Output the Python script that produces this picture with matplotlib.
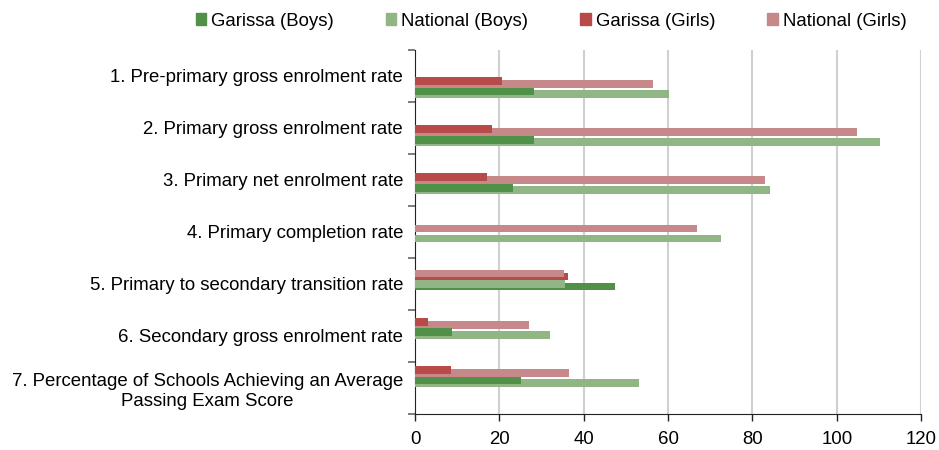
import numpy as np
import matplotlib
matplotlib.use('Agg')
import matplotlib.pyplot as plt
from matplotlib.patches import Patch

plt.rcParams['font.family'] = ['Liberation Sans', 'DejaVu Sans']

categories = [
    '1. Pre-primary gross enrolment rate',
    '2. Primary gross enrolment rate',
    '3. Primary net enrolment rate',
    '4. Primary completion rate',
    '5. Primary to secondary transition rate',
    '6. Secondary gross enrolment rate',
    '7. Percentage of Schools Achieving an Average\nPassing Exam Score',
]
garissa_boys = [28.2, 28.2, 23.2, np.nan, 47.4, 8.8, 25.1]
national_boys = [60.1, 110.3, 84.2, 72.6, 35.6, 32.0, 53.1]
garissa_girls = [20.6, 18.2, 17.1, np.nan, 36.3, 3.1, 8.5]
national_girls = [56.4, 104.8, 83.0, 66.9, 35.3, 27.0, 36.5]

c_gb = '#509048'
c_nb = '#91b685'
c_gg = '#b84a4a'
c_ng = '#c68888'

fig = plt.figure(figsize=(9.39, 4.5), dpi=100)
ax = fig.add_axes([0.442, 0.08, 0.539, 0.809])
ax2 = ax.twinx()

n = len(categories)
ypos = np.arange(n)
h = 0.16

# each pair: the shorter bar sits a bit higher and in front
pairs = [
    (garissa_girls, national_girls, c_gg, c_ng, -0.135, -0.073),
    (garissa_boys, national_boys, c_gb, c_nb, 0.083, 0.135),
]
for garissa, national, cg, cn, off_front, off_back in pairs:
    for i in range(n):
        g = 0 if np.isnan(garissa[i]) else garissa[i]
        nat = national[i]
        if g <= nat:
            front, fc, back, bc = g, cg, nat, cn
        else:
            front, fc, back, bc = nat, cn, g, cg
        ax2.barh(ypos[i] + off_back, back, height=h, color=bc, zorder=2)
        if front > 0:
            ax2.barh(ypos[i] + off_front, front, height=h, color=fc, zorder=3)

ax2.set_ylim(n - 1 + 0.78, -0.78)
ax2.set_yticks([])
for s in ax2.spines.values():
    s.set_visible(False)

ax.set_xlim(0, 120)
ax.set_ylim(n - 0.5, -0.5)
ax.set_xticks(np.arange(0, 121, 20))
ax.set_yticks(ypos)
ax.set_yticklabels(categories, fontsize=13.4)
for lab in ax.get_yticklabels():
    lab.set_multialignment('center')
ax.set_yticks(np.arange(-0.5, n, 1.0), minor=True)
ax.tick_params(axis='y', which='major', length=0, pad=8.5)
ax.tick_params(axis='y', which='minor', length=5, width=1.2, color='#666666')
ax.tick_params(axis='x', labelsize=13.4, length=5, width=1, color='#222222', pad=7)
ax.grid(axis='x', color='#d0d0d0', linewidth=1.5)
ax.set_axisbelow(True)
ax.spines['top'].set_visible(False)
ax.spines['right'].set_visible(False)
ax.spines['left'].set_color('#222222')
ax.spines['bottom'].set_color('#222222')

handles = [
    Patch(color=c_gb, label='Garissa (Boys)'),
    Patch(color=c_nb, label='National (Boys)'),
    Patch(color=c_gg, label='Garissa (Girls)'),
    Patch(color=c_ng, label='National (Girls)'),
]
fig.legend(handles=handles, loc='center', bbox_to_anchor=(0.587, 0.953), ncol=4,
           frameon=False, fontsize=13.4, handlelength=0.55, handleheight=0.55,
           handletextpad=0.27, columnspacing=2.8)

fig.savefig('out.png', dpi=100)
